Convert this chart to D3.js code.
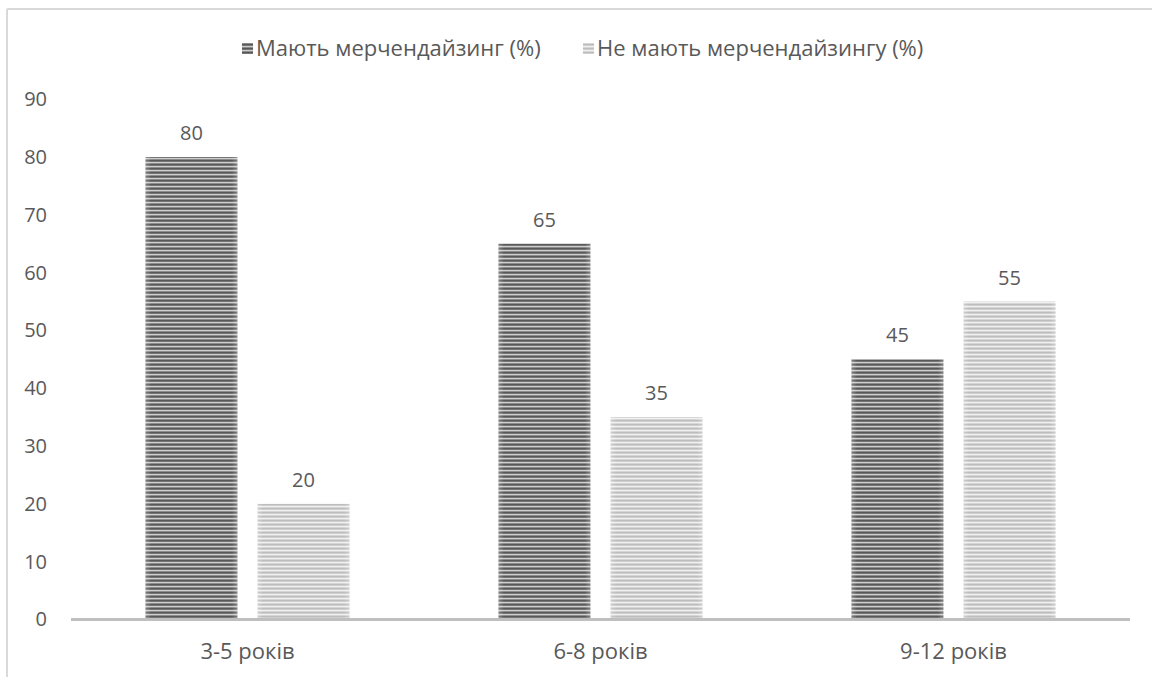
<!DOCTYPE html>
<html>
<head>
<meta charset="utf-8">
<script src="https://cdn.jsdelivr.net/npm/d3@7"></script>
<style>
  html, body { margin: 0; padding: 0; background: #ffffff; }
  svg { display: block; }
  text { font-family: "Open Sans", "Liberation Sans", sans-serif; fill: #595959; }
</style>
</head>
<body>
<svg id="chart" width="1152" height="677"></svg>
<script>
// Chart data
const categories = ["3-5 років", "6-8 років", "9-12 років"];
const seriesNames = ["Мають мерчендайзинг (%)", "Не мають мерчендайзингу (%)"];
const withMerch = [80, 65, 45];
const withoutMerch = [20, 35, 55];
const yTicks = [0, 10, 20, 30, 40, 50, 60, 70, 80, 90];

const series = [
  { name: seriesNames[0], values: withMerch, fill: "url(#stripeDark)" },
  { name: seriesNames[1], values: withoutMerch, fill: "url(#stripeLight)" }
];

const svg = d3.select("#chart");
const W = 1152, H = 677;
const plotLeft = 71, plotWidth = 1059;
const baseY = 619.5;
const FONT = "'Open Sans', 'Liberation Sans', sans-serif";

// Striped fills
const defs = svg.append("defs");
function stripes(id, rows) {
  const p = defs.append("pattern")
    .attr("id", id)
    .attr("patternUnits", "userSpaceOnUse")
    .attr("width", 8)
    .attr("height", rows.length);
  rows.forEach((c, i) => {
    p.append("rect").attr("x", 0).attr("y", i).attr("width", 8).attr("height", 1).attr("fill", c);
  });
}
stripes("stripeDark", ["#585858", "#767676", "#cdcdcd", "#8c8c8c"]);
stripes("stripeLight", ["#bdbdbd", "#cfcfcf", "#f0f0f0", "#d6d6d6"]);

// Subtle sheen at the bar edges
const sheen = defs.append("linearGradient").attr("id", "sheen").attr("x1", 0).attr("x2", 1);
sheen.append("stop").attr("offset", 0).attr("stop-color", "#ffffff").attr("stop-opacity", 0.25);
sheen.append("stop").attr("offset", 0.06).attr("stop-color", "#ffffff").attr("stop-opacity", 0);
sheen.append("stop").attr("offset", 0.94).attr("stop-color", "#ffffff").attr("stop-opacity", 0);
sheen.append("stop").attr("offset", 1).attr("stop-color", "#ffffff").attr("stop-opacity", 0.25);

// Chart frame (top and left edges visible)
svg.append("line").attr("x1", 7).attr("x2", W).attr("y1", 9).attr("y2", 9)
  .attr("stroke", "#d9d9d9").attr("stroke-width", 2);
svg.append("line").attr("x1", 7).attr("x2", 7).attr("y1", 9).attr("y2", H)
  .attr("stroke", "#d9d9d9").attr("stroke-width", 2);

// Scales
const y = d3.scaleLinear().domain([0, 80]).range([baseY, 157]);
const x0 = d3.scaleBand().domain(categories).range([plotLeft, plotLeft + plotWidth]).paddingInner(0.422).paddingOuter(0.211);
const x1 = d3.scaleBand().domain(seriesNames).range([0, x0.bandwidth()]).paddingInner(0.18);

// Y axis labels
const yAxis = d3.axisLeft(y).tickValues(yTicks).tickSize(0).tickPadding(0);
const yg = svg.append("g").attr("transform", `translate(47,0)`).call(yAxis);
yg.select(".domain").remove();
yg.selectAll("text").attr("font-size", 20).attr("fill", "#595959").style("font-family", FONT);

// Bars
const groups = svg.append("g").selectAll("g")
  .data(categories)
  .join("g")
  .attr("transform", d => `translate(${x0(d)},0)`);

series.forEach(s => {
  groups.append("rect")
    .attr("x", x1(s.name))
    .attr("y", (d, i) => y(s.values[i]))
    .attr("width", x1.bandwidth())
    .attr("height", (d, i) => baseY - y(s.values[i]))
    .attr("fill", s.fill);
  groups.append("rect")
    .attr("x", x1(s.name))
    .attr("y", (d, i) => y(s.values[i]))
    .attr("width", x1.bandwidth())
    .attr("height", (d, i) => baseY - y(s.values[i]))
    .attr("fill", "url(#sheen)");
  groups.append("text")
    .attr("x", x1(s.name) + x1.bandwidth() / 2)
    .attr("y", (d, i) => y(s.values[i]) - 24)
    .attr("dy", "0.35em")
    .attr("text-anchor", "middle")
    .attr("font-size", 20)
    .text((d, i) => s.values[i]);
});

// X axis line and category labels
svg.append("line")
  .attr("x1", plotLeft).attr("x2", plotLeft + plotWidth)
  .attr("y1", baseY).attr("y2", baseY)
  .attr("stroke", "#bfbfbf").attr("stroke-width", 3);

const xAxis = d3.axisBottom(x0).tickSize(0).tickPadding(0);
const xg = svg.append("g").attr("transform", `translate(0,${baseY + 24})`).call(xAxis);
xg.select(".domain").remove();
xg.selectAll("text").attr("font-size", 22).attr("fill", "#595959").style("font-family", FONT);

// Legend
const legendItems = [
  { name: seriesNames[0], fill: "url(#stripeDark)", x: 242 },
  { name: seriesNames[1], fill: "url(#stripeLight)", x: 583 }
];
const lg = svg.append("g");
legendItems.forEach(it => {
  lg.append("rect").attr("x", it.x).attr("y", 43).attr("width", 11).attr("height", 11).attr("fill", it.fill);
  lg.append("text").attr("x", it.x + 14).attr("y", 48.5).attr("dy", "0.35em")
    .attr("font-size", 22).text(it.name);
});
</script>
</body>
</html>
